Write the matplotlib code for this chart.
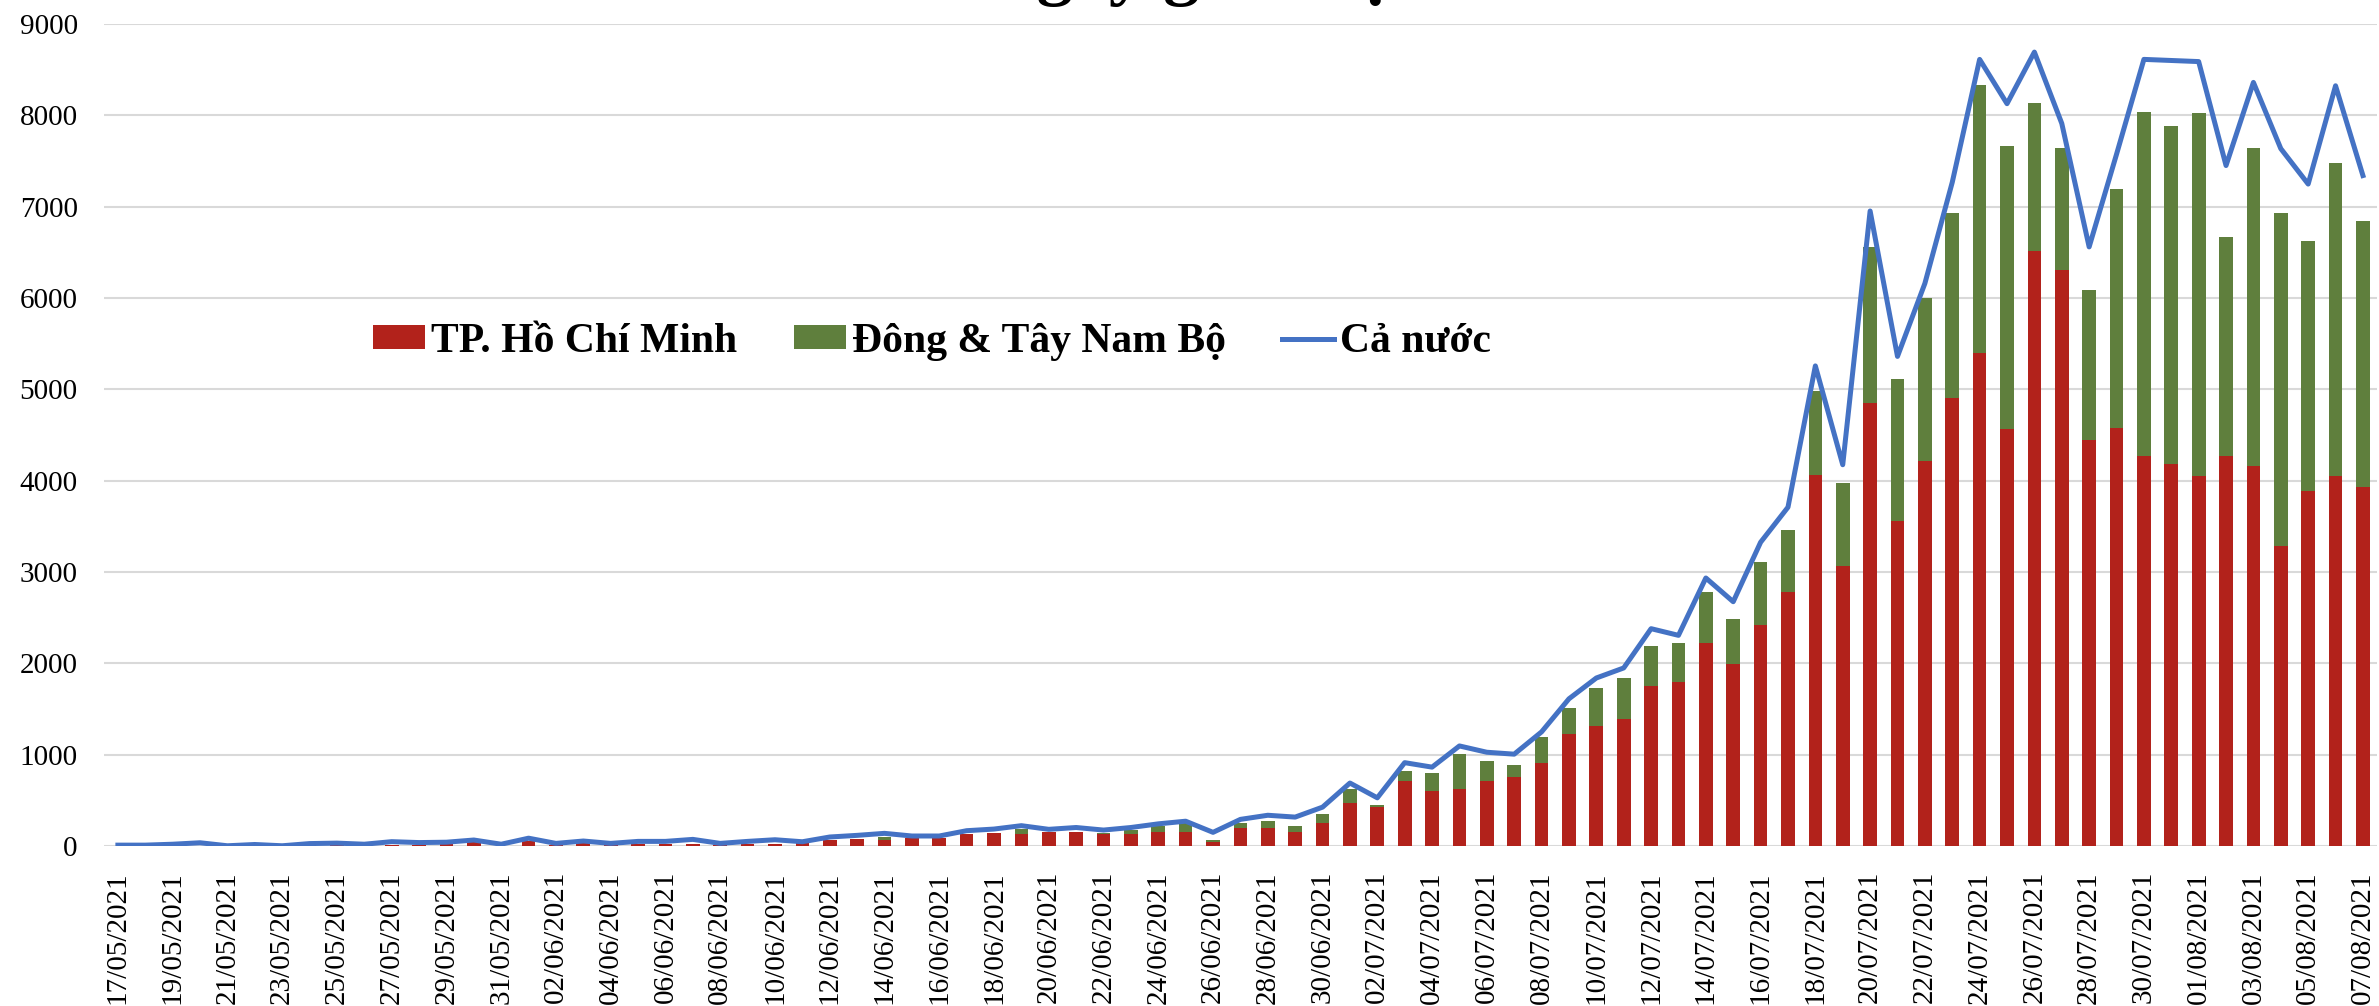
import numpy as np
import pandas as pd
import matplotlib
matplotlib.use("Agg")
import matplotlib.pyplot as plt

plt.rcParams['font.family'] = ['Liberation Serif', 'DejaVu Serif']

# ngay 17/05/2021 -> 07/08/2021
ngay = pd.date_range('2021-05-17', '2021-08-07', freq='D')
nhan_ngay = [d.strftime('%d/%m/%Y') for d in ngay]

# TP. Ho Chi Minh
hcm = [3, 2, 10, 5, 0, 3, 0, 8, 6, 4,
       10, 12, 20, 45, 5, 60, 12, 35, 8, 20,
       25, 22, 10, 20, 25, 30, 65, 80, 66, 88,
       84, 131, 139, 131, 153, 150, 134, 130, 154, 154,
       41, 203, 203, 154, 248, 467, 426, 708, 598, 626,
       708, 752, 910, 1222, 1310, 1395, 1752, 1796, 2220, 1998,
       2420, 2778, 4064, 3062, 4851, 3560, 4218, 4906, 5398, 4568,
       6511, 6308, 4445, 4574, 4267, 4180, 4052, 4267, 4162, 3289,
       3885, 4052, 3928]

# Dong & Tay Nam Bo
mien_nam = [0, 0, 0, 0, 0, 0, 0, 0, 0, 0,
            0, 0, 0, 0, 0, 0, 0, 0, 0, 0,
            0, 0, 0, 0, 0, 0, 0, 0, 36, 0,
            0, 0, 0, 52, 0, 8, 8, 45, 61, 110,
            28, 45, 69, 69, 105, 162, 28, 118, 201, 377,
            223, 139, 287, 288, 424, 449, 443, 426, 558, 490,
            692, 687, 916, 916, 1709, 1549, 1782, 2023, 2939, 3098,
            1623, 1334, 1642, 2625, 3775, 3708, 3971, 2397, 3480, 3640,
            2736, 3430, 2915]

# Ca nuoc
ca_nuoc = [10, 10, 20, 36, 3, 17, 3, 27, 32, 20,
           48, 38, 42, 66, 20, 86, 29, 55, 29, 51,
           51, 73, 29, 51, 69, 47, 99, 117, 139, 110,
           110, 168, 186, 223, 183, 203, 175, 203, 243, 272,
           150, 292, 337, 317, 426, 690, 528, 913, 864, 1096,
           1027, 1006, 1250, 1612, 1840, 1950, 2380, 2307, 2935, 2675,
           3326, 3710, 5257, 4175, 6953, 5361, 6160, 7267, 8613, 8128,
           8693, 7912, 6560, 7574, 8613, 8601, 8589, 7451, 8361, 7636,
           7248, 8324, 7341]

x = np.arange(len(nhan_ngay))

fig = plt.figure(figsize=(23.79, 10.06), dpi=100)
ax = fig.add_axes([0.0438, 0.159, 0.9552, 0.8171])

b1 = ax.bar(x, hcm, width=0.5, color='#B2221B', label='TP. Hồ Chí Minh', zorder=2)
b2 = ax.bar(x, mien_nam, width=0.5, bottom=hcm, color='#5F7F3D', label='Đông & Tây Nam Bộ', zorder=2)
l1, = ax.plot(x, ca_nuoc, color='#4472C4', linewidth=3.6, solid_joinstyle='round', label='Cả nước', zorder=3)

ax.set_xlim(-0.5, len(x) - 0.5)
ax.set_ylim(0, 9000)
ax.set_yticks(np.arange(0, 9001, 1000))
ax.set_yticklabels([str(v) for v in range(0, 9001, 1000)])
ax.set_xticks(x[::2])
ax.set_xticklabels(nhan_ngay[::2], rotation=90, ha='center', va='top')

ax.tick_params(axis='y', length=0, pad=19, labelsize=21)
ax.tick_params(axis='x', length=0, pad=18, labelsize=21)
ax.grid(axis='y', color='#d9d9d9', linewidth=1.5, zorder=0)
ax.set_axisbelow(True)
for s in ax.spines.values():
    s.set_visible(False)

# tieu de (phan lon nam ngoai khung hinh)
fig.text(0.603, 1.0076, 'Số ca mắc mới theo ngày ghi nhận', ha='right', va='baseline',
         fontsize=52, fontweight='bold')

fig.legend([b1, b2, l1], ['TP. Hồ Chí Minh', 'Đông & Tây Nam Bộ', 'Cả nước'],
           loc='center', bbox_to_anchor=(0.3918, 0.66), ncol=3, frameon=False,
           prop={'family': 'Liberation Serif', 'weight': 'bold', 'size': 30},
           handlelength=1.25, handleheight=0.5, handletextpad=0.15, columnspacing=1.35)

plt.savefig('out.png', dpi=100)
